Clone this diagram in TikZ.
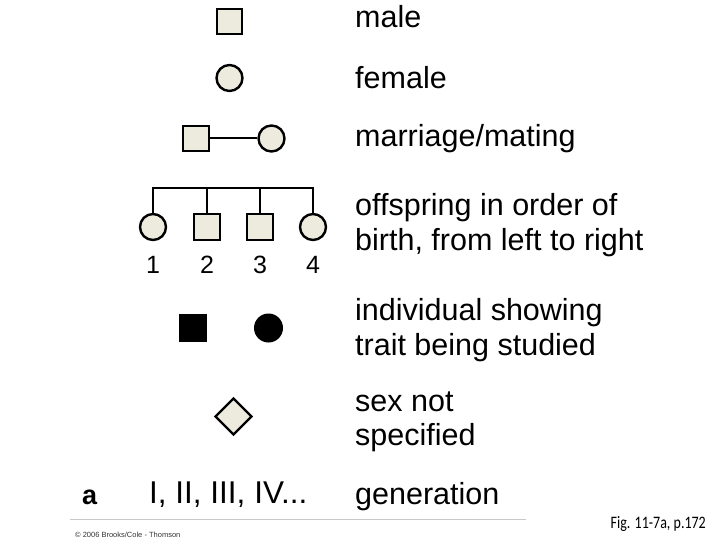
\documentclass[tikz,border=0pt]{standalone}
\usepackage{fontspec}
\setmainfont{Liberation Sans}
\newfontfamily\figfont{Carlito}
\usetikzlibrary{shapes.geometric}
\definecolor{beige}{RGB}{237,234,222}
\definecolor{rulegray}{RGB}{200,200,200}
\tikzset{
  malebox/.style={draw=black, fill=beige, line width=2.4pt, minimum size=25.5pt, inner sep=0pt},
  femalebox/.style={circle, draw=black, fill=beige, line width=2.4pt, minimum size=26pt, inner sep=0pt},
  affmale/.style={fill=black, minimum size=28pt, inner sep=0pt},
  afffemale/.style={circle, fill=black, minimum size=29pt, inner sep=0pt},
  unkbox/.style={diamond, draw=black, fill=beige, line width=2.4pt, minimum size=37pt, inner sep=0pt},
  lab/.style={anchor=base west, inner sep=0pt, font=\fontsize{30.5}{36}\selectfont},
  num/.style={anchor=base, inner sep=0pt, font=\fontsize{25}{30}\selectfont},
  link/.style={line width=2pt}
}
\begin{document}
\begin{tikzpicture}[x=1pt, y=-1pt]
\useasboundingbox (0,0) rectangle (720,540);
% symbols
\node[malebox] (male) at (229.5,21.5) {};
\node[femalebox] (female) at (229.5,78) {};
\node[malebox] (mm) at (196,138.5) {};
\node[femalebox] (mf) at (271.5,138.5) {};
\draw[link] (mm) -- (mf);
% offspring
\coordinate (bar1) at (153,188);
\coordinate (bar2) at (207,188);
\coordinate (bar3) at (260,188);
\coordinate (bar4) at (313,188);
\node[femalebox] (o1) at (153,227) {};
\node[malebox] (o2) at (207,227) {};
\node[malebox] (o3) at (260,227) {};
\node[femalebox] (o4) at (313,227) {};
\draw[link, line cap=rect] (bar1) -- (bar4);
\draw[link] (bar1) -- (o1.north);
\draw[link] (bar2) -- (o2.north);
\draw[link] (bar3) -- (o3.north);
\draw[link] (bar4) -- (o4.north);
\node[num] (n1) at (153,273) {1};
\node[num] (n2) at (207,273) {2};
\node[num] (n3) at (260,273) {3};
\node[num] (n4) at (313,273) {4};
% affected
\node[affmale] (am) at (193,328) {};
\node[afffemale] (af) at (268.5,328) {};
% unknown
\node[unkbox] (unk) at (233.5,416.5) {};
% labels
\node[lab] (l1) at (355,28) {male};
\node[lab] (l2) at (355,89) {female};
\node[lab] (l3) at (355,146.5) {marriage/mating};
\node[lab] (l4) at (355,215.5) {offspring in order of};
\node[lab] (l5) at (355,251) {birth, from left to right};
\node[lab] (l6) at (355,320) {individual showing};
\node[lab] (l7) at (355,355) {trait being studied};
\node[lab] (l8) at (355,411.5) {sex not};
\node[lab] (l9) at (355,445.5) {specified};
\node[lab] (l10) at (355,504) {generation};
\node[lab, font=\fontsize{31.5}{36}\selectfont] (gen) at (149,503) {I, II, III, IV...};
\node[anchor=base west, inner sep=0pt, font=\fontsize{27}{32}\selectfont\bfseries] (a) at (82,504) {a};
% footer
\coordinate (r1) at (70,519);
\coordinate (r2) at (526,519);
\draw[rulegray, line width=0.8pt] (r1) -- (r2);
\node[anchor=base west, inner sep=0pt, font=\fontsize{7.5}{9}\selectfont, text=black!80] (copy) at (75,537) {\textcopyright{} 2006 Brooks/Cole - Thomson};
\node[anchor=base east, inner sep=0pt, xscale=0.8, font=\fontsize{17.5}{20}\selectfont\figfont] (fig) at (706,528) {Fig. 11-7a, p.172};
\end{tikzpicture}
\end{document}
